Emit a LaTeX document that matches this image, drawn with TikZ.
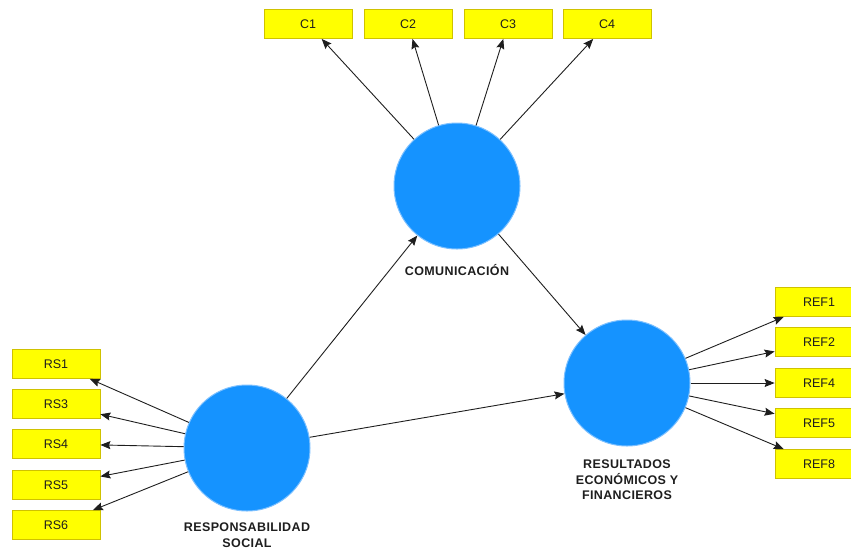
\documentclass[tikz,border=0pt]{standalone}
\usepackage{fontspec}
\setmainfont{Liberation Sans}
\usetikzlibrary{arrows.meta}
\definecolor{boxfill}{HTML}{FFFF00}
\definecolor{boxedge}{HTML}{CFC200}
\definecolor{lvfill}{HTML}{1593FF}
\definecolor{lvedge}{HTML}{7CC0FF}
\definecolor{ink}{HTML}{1E1E1E}
\tikzset{
  indicator/.style={rectangle, minimum width=88pt, minimum height=29pt, inner sep=0pt,
    fill=boxfill, draw=boxedge, line width=0.8pt, text=ink,
    font=\fontsize{12.5}{14}\selectfont},
  latent/.style={circle, minimum size=126pt, inner sep=0pt, fill=lvfill, draw=lvedge, line width=1pt},
  lvlabel/.style={align=center, text=ink, inner sep=0pt,
    font=\fontsize{12.5}{15.5}\selectfont\bfseries\addfontfeature{LetterSpace=3}},
  link/.style={draw=ink, line width=0.9pt, -{Stealth[length=10pt, width=8pt, inset=1.5pt]}}
}
\begin{document}
\begin{tikzpicture}[x=1pt, y=-1pt]
\useasboundingbox (0,0) rectangle (851,547);
\clip (0,0) rectangle (851,547);

% latent variables
\node[latent] (com) at (457,186) {};
\node[latent] (rs)  at (247,448) {};
\node[latent] (ref) at (627,383) {};

\node[lvlabel] (comlbl) at (457,270) {COMUNICACIÓN};
\node[lvlabel] (rslbl)  at (247,535) {RESPONSABILIDAD\\SOCIAL};
\node[lvlabel] (reflbl) at (627,480) {RESULTADOS\\ECONÓMICOS Y\\FINANCIEROS};

% indicators of COMUNICACIÓN
\node[indicator] (c1) at (308,24) {C1};
\node[indicator] (c2) at (408,24) {C2};
\node[indicator] (c3) at (508,24) {C3};
\node[indicator] (c4) at (607,24) {C4};

% indicators of RESPONSABILIDAD SOCIAL
\node[indicator] (rs1) at (56,364) {RS1};
\node[indicator] (rs3) at (56,404) {RS3};
\node[indicator] (rs4) at (56,444) {RS4};
\node[indicator] (rs5) at (56,485) {RS5};
\node[indicator] (rs6) at (56,525) {RS6};

% indicators of RESULTADOS ECONÓMICOS Y FINANCIEROS
\node[indicator] (ref1) at (819,302) {REF1};
\node[indicator] (ref2) at (819,342) {REF2};
\node[indicator] (ref4) at (819,383) {REF4};
\node[indicator] (ref5) at (819,423) {REF5};
\node[indicator] (ref8) at (819,464) {REF8};

% outer model
\foreach \t in {c1,c2,c3,c4} \draw[link] (com) -- (\t);
\foreach \t in {rs1,rs3,rs4,rs5,rs6} \draw[link] (rs) -- (\t);
\foreach \t in {ref1,ref2,ref4,ref5,ref8} \draw[link] (ref) -- (\t);

% inner model
\draw[link] (rs) -- (com);
\draw[link] (com) -- (ref);
\draw[link] (rs) -- (ref);
\end{tikzpicture}
\end{document}
